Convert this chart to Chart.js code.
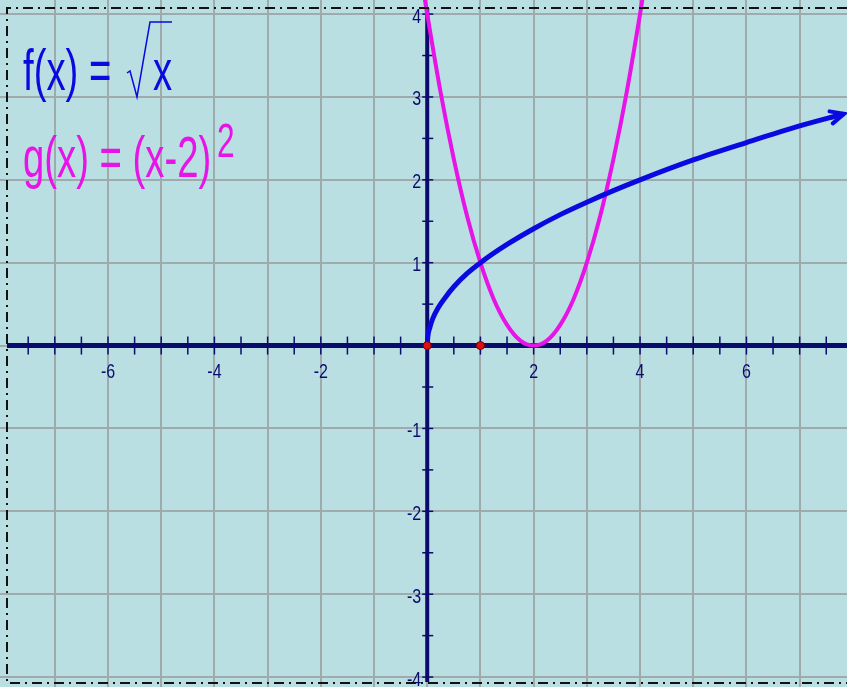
<!DOCTYPE html>
<html>
<head>
<meta charset="utf-8">
<script src="https://cdn.jsdelivr.net/npm/chart.js@4/dist/chart.umd.min.js"></script>
<style>
  html, body { margin: 0; padding: 0; background: #badfe2; }
  #wrap { width: 847px; height: 687px; }
</style>
</head>
<body>
<div id="wrap"><canvas id="grafico" width="847" height="687"></canvas></div>
<script>
// ===== datos =====
const fX = [0, 0.01, 0.05, 0.1, 0.2, 0.35, 0.5, 0.75, 1, 1.5, 2, 2.5, 3, 3.5, 4, 5, 6, 7, 7.8];
const fY = [0, 0.1, 0.22, 0.32, 0.45, 0.59, 0.71, 0.87, 1, 1.22, 1.41, 1.58, 1.73, 1.87, 2, 2.24, 2.45, 2.65, 2.79];

const gX = [-0.05, 0, 0.25, 0.5, 0.75, 1, 1.25, 1.5, 1.75, 2, 2.25, 2.5, 2.75, 3, 3.25, 3.5, 3.75, 4, 4.05];
const gY = [4.2, 4, 3.06, 2.25, 1.56, 1, 0.56, 0.25, 0.06, 0, 0.06, 0.25, 0.56, 1, 1.56, 2.25, 3.06, 4, 4.2];

const puntosX = [0, 1];
const puntosY = [0, 0];

const gridX = [-7, -6, -5, -4, -3, -2, -1, 0, 1, 2, 3, 4, 5, 6, 7];
const gridY = [-4, -3, -2, -1, 0, 1, 2, 3, 4];
const labelsX = [-6, -4, -2, 2, 4, 6];
const labelsY = [-4, -3, -2, -1, 1, 2, 3, 4];

const tituloF = "f(x) = ";
const tituloFx = "x";
const tituloG = "g(x) = (x-2)";
const tituloGexp = "2";

// colores
const azul = "#0a0ae0";
const magenta = "#e614e6";
const ejeColor = "#0b0b6e";
const gridColor = "#9eaaab";

const toPts = (xs, ys) => xs.map((x, i) => ({ x: x, y: ys[i] }));

// ===== ejes, marcas y etiquetas =====
const ejesPlugin = {
  id: "ejes",
  beforeDatasetsDraw(chart) {
    const ctx = chart.ctx;
    const sx = chart.scales.x, sy = chart.scales.y;
    const x0 = sx.getPixelForValue(0), y0 = sy.getPixelForValue(0);
    const area = chart.chartArea;
    ctx.save();
    // eje x
    ctx.strokeStyle = ejeColor;
    ctx.lineWidth = 5;
    ctx.beginPath(); ctx.moveTo(area.left + 7, y0); ctx.lineTo(area.right, y0); ctx.stroke();
    // eje y
    ctx.lineWidth = 4;
    ctx.beginPath(); ctx.moveTo(x0, area.top + 8); ctx.lineTo(x0, area.bottom - 5); ctx.stroke();
    // marcas
    ctx.lineWidth = 1.5;
    for (let v = -7.5; v <= 7.5; v += 0.5) {
      if (v === 0) continue;
      const p = sx.getPixelForValue(v);
      ctx.beginPath(); ctx.moveTo(p, y0 - 9); ctx.lineTo(p, y0 + 9); ctx.stroke();
    }
    for (let v = -4; v <= 4; v += 0.5) {
      if (v === 0) continue;
      const p = sy.getPixelForValue(v);
      ctx.beginPath(); ctx.moveTo(x0 - 5, p); ctx.lineTo(x0 + 6, p); ctx.stroke();
    }
    // etiquetas
    ctx.fillStyle = ejeColor;
    ctx.font = '20px "Liberation Sans", Arial, sans-serif';
    ctx.textBaseline = "middle";
    labelsX.forEach(v => {
      ctx.save();
      ctx.translate(sx.getPixelForValue(v), y0 + 27);
      ctx.scale(0.8, 1);
      ctx.textAlign = "center";
      ctx.fillText(String(v), 0, 0);
      ctx.restore();
    });
    labelsY.forEach(v => {
      ctx.save();
      ctx.translate(x0 - 6, sy.getPixelForValue(v) + 3);
      ctx.scale(0.8, 1);
      ctx.textAlign = "right";
      ctx.fillText(String(v), 0, 0);
      ctx.restore();
    });
    ctx.restore();
  },
  afterDatasetsDraw(chart) {
    // flecha al final de f(x)
    const ctx = chart.ctx;
    const meta = chart.getDatasetMeta(1);
    const n = meta.data.length;
    const a = meta.data[n - 2], b = meta.data[n - 1];
    const ang = Math.atan2(b.y - a.y, b.x - a.x);
    const L = 13, w = 0.5;
    ctx.save();
    ctx.strokeStyle = azul;
    ctx.lineWidth = 4;
    ctx.lineCap = "round";
    ctx.beginPath();
    ctx.moveTo(b.x - L * Math.cos(ang - w), b.y - L * Math.sin(ang - w));
    ctx.lineTo(b.x + 2 * Math.cos(ang), b.y + 2 * Math.sin(ang));
    ctx.lineTo(b.x - L * Math.cos(ang + w), b.y - L * Math.sin(ang + w));
    ctx.stroke();
    ctx.restore();
  },
  afterDraw(chart) {
    const ctx = chart.ctx;
    ctx.save();
    // borde punto-raya
    ctx.strokeStyle = "#111";
    ctx.lineWidth = 2;
    ctx.setLineDash([10, 5, 2, 5]);
    ctx.beginPath();
    ctx.moveTo(847, 8); ctx.lineTo(7, 8); ctx.lineTo(7, 683); ctx.lineTo(847, 683);
    ctx.stroke();
    ctx.setLineDash([]);
    // títulos
    ctx.textAlign = "left";
    ctx.textBaseline = "alphabetic";
    ctx.font = '58px "Liberation Sans", Arial, sans-serif';
    ctx.fillStyle = azul;
    ctx.save(); ctx.translate(23, 90); ctx.scale(0.66, 1); ctx.fillText(tituloF, 0, 0); ctx.restore();
    ctx.save(); ctx.translate(153, 90); ctx.scale(0.66, 1); ctx.fillText(tituloFx, 0, 0); ctx.restore();
    // signo radical
    ctx.strokeStyle = azul;
    ctx.lineWidth = 1.5;
    ctx.beginPath();
    ctx.moveTo(127, 73); ctx.lineTo(130, 71); ctx.lineTo(137, 97); ctx.lineTo(150, 22); ctx.lineTo(172, 22);
    ctx.stroke();
    ctx.fillStyle = magenta;
    ctx.save(); ctx.translate(23, 177); ctx.scale(0.66, 1); ctx.fillText(tituloG, 0, 0); ctx.restore();
    ctx.font = '48px "Liberation Sans", Arial, sans-serif';
    ctx.save(); ctx.translate(217, 157); ctx.scale(0.66, 1); ctx.fillText(tituloGexp, 0, 0); ctx.restore();
    ctx.restore();
  }
};

const fondoPlugin = {
  id: "fondo",
  beforeDraw(chart) {
    const ctx = chart.ctx;
    ctx.save();
    ctx.fillStyle = "#badfe2";
    ctx.fillRect(0, 0, chart.width, chart.height);
    ctx.restore();
  }
};

const ctx = document.getElementById("grafico").getContext("2d");
new Chart(ctx, {
  type: "scatter",
  data: {
    datasets: [
      { data: toPts(puntosX, puntosY), pointRadius: 4, backgroundColor: "#e01010", borderColor: "#7a0000", borderWidth: 1, showLine: false },
      { data: toPts(fX, fY), borderColor: azul, borderWidth: 5, showLine: true, pointRadius: 0, cubicInterpolationMode: "monotone", borderCapStyle: "round" },
      { data: toPts(gX, gY), borderColor: magenta, borderWidth: 4, showLine: true, pointRadius: 0, cubicInterpolationMode: "monotone" }
    ]
  },
  options: {
    responsive: false,
    animation: false,
    devicePixelRatio: 1,
    layout: { padding: 0, autoPadding: false },
    plugins: { legend: { display: false }, tooltip: { enabled: false } },
    events: [],
    scales: {
      x: {
        type: "linear", min: -8.03, max: 7.89,
        ticks: { display: false },
        border: { display: false },
        grid: { color: gridColor, lineWidth: 2, drawTicks: false },
        afterBuildTicks: s => { s.ticks = gridX.map(v => ({ value: v })); }
      },
      y: {
        type: "linear", min: -4.12, max: 4.17,
        ticks: { display: false },
        border: { display: false },
        grid: { color: gridColor, lineWidth: 2, drawTicks: false },
        afterBuildTicks: s => { s.ticks = gridY.map(v => ({ value: v })); }
      }
    }
  },
  plugins: [fondoPlugin, ejesPlugin]
});
</script>
</body>
</html>
